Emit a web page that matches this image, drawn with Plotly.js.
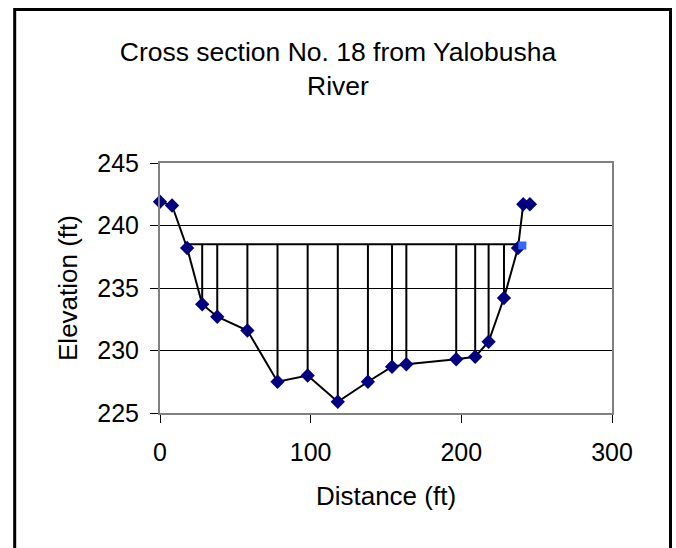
<!DOCTYPE html>
<html>
<head>
<meta charset="utf-8">
<script src="https://cdn.plot.ly/plotly-3.0.1.min.js"></script>
<style>
  html, body { margin: 0; padding: 0; background: #fff; }
  #chart { width: 676px; height: 548px; }
</style>
</head>
<body>
<div id="chart"></div>
<script>
// Surveyed cross-section points
const distance  = [0, 8, 18, 28, 38, 58, 78, 98, 118, 138, 154, 163.5, 196.6, 209.2, 218.1, 228.3, 237.6, 241.1, 245.5];
const elevation = [241.9, 241.6, 238.2, 233.7, 232.7, 231.6, 227.5, 228.0, 225.9, 227.5, 228.7, 228.9, 229.3, 229.5, 230.7, 234.2, 238.2, 241.7, 241.7];

// Water surface
const waterLevel = 238.5;
const waterStartX = 18;
const waterEndX = 237.6;
const waterPointX = [240.5];
const waterPointY = [238.4];

// Stations that get a vertical depth line (indices into distance/elevation)
const verticalFrom = 3;
const verticalTo = 15;

const xTicks = [0, 100, 200, 300];
const yTicks = [225, 230, 235, 240, 245];

const vx = [], vy = [];
for (let i = verticalFrom; i <= verticalTo; i++) {
  vx.push(distance[i], distance[i], null);
  vy.push(waterLevel, elevation[i], null);
}

const font = "Liberation Sans, Arial, sans-serif";

const traces = [
  { x: vx, y: vy, mode: 'lines', line: {color: '#000', width: 2}, hoverinfo: 'skip', showlegend: false, cliponaxis: false },
  { x: [waterStartX, waterEndX], y: [waterLevel, waterLevel], mode: 'lines', line: {color: '#000', width: 2}, showlegend: false, cliponaxis: false },
  { x: distance, y: elevation, mode: 'lines+markers',
    line: {color: '#000', width: 2},
    marker: {symbol: 'diamond', size: 11, color: '#000080', line: {width: 0}},
    showlegend: false, cliponaxis: false },
  { x: waterPointX, y: waterPointY, mode: 'markers',
    marker: {symbol: 'square', size: 8, color: '#3366FF', line: {width: 0}},
    showlegend: false, cliponaxis: false }
];

const layout = {
  width: 676, height: 548,
  margin: {l: 160, r: 64, t: 163, b: 135},
  paper_bgcolor: '#fff', plot_bgcolor: '#fff',
  font: {family: font, color: '#000'},
  title: {
    text: 'Cross section No. 18 from Yalobusha<br>River',
    font: {family: font, size: 26.5, color: '#000'},
    x: 0.5, xref: 'container', xanchor: 'center',
    y: 1 - 61/548, yref: 'container', yanchor: 'top'
  },
  xaxis: {
    range: [0, 300], tickvals: xTicks, ticktext: xTicks.map(String),
    showgrid: false, zeroline: false,
    showline: true, linecolor: '#808080', linewidth: 2, mirror: true,
    ticks: 'outside', ticklen: 8, tickwidth: 1, tickcolor: '#000',
    tickfont: {family: font, size: 25, color: '#000'},
    ticklabelstandoff: 8,
    title: {text: 'Distance (ft)', font: {family: font, size: 26, color: '#000'}, standoff: 22},
    automargin: false, fixedrange: true
  },
  yaxis: {
    range: [225, 245], tickvals: yTicks, ticktext: yTicks.map(String),
    showgrid: true, gridcolor: '#000', gridwidth: 1, zeroline: false,
    showline: true, linecolor: '#808080', linewidth: 2, mirror: true,
    ticks: 'outside', ticklen: 8, tickwidth: 1, tickcolor: '#000',
    tickfont: {family: font, size: 25, color: '#000'},
    ticklabelstandoff: 6,
    title: {text: 'Elevation (ft)', font: {family: font, size: 26, color: '#000'}, standoff: 12},
    automargin: false, fixedrange: true
  },
  shapes: [{
    type: 'rect', xref: 'paper', yref: 'paper',
    x0: (14.7 - 160) / 452, x1: (670.5 - 160) / 452,
    y0: -0.7, y1: (413 - 9.5) / 250,
    line: {color: '#000', width: 3}, fillcolor: 'rgba(0,0,0,0)', layer: 'above'
  }]
};

Plotly.newPlot('chart', traces, layout, {displayModeBar: false, staticPlot: true});
</script>
</body>
</html>
